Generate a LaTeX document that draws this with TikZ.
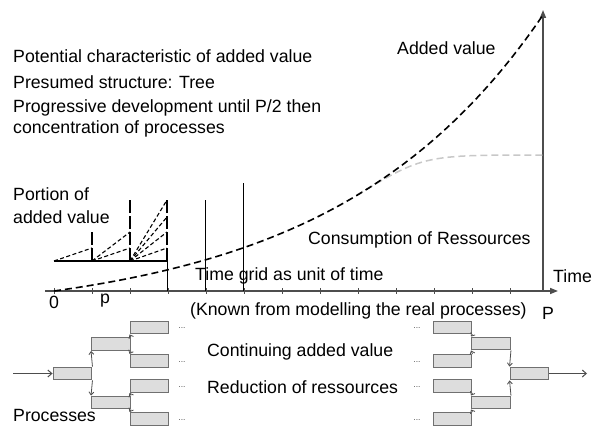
\documentclass[tikz,border=0pt]{standalone}
\usepackage{fontspec}
\setmainfont{Liberation Sans}
\usepackage{tikz}
\usetikzlibrary{arrows.meta}
\definecolor{axisgray}{RGB}{77,77,77}
\definecolor{boxfill}{RGB}{221,221,221}
\definecolor{boxline}{RGB}{112,112,112}
\definecolor{lightcurve}{RGB}{200,200,200}

\begin{document}
\begin{tikzpicture}[x=1pt, y=-1pt,
    lbl/.style={font=\fontsize{17.7}{21}\selectfont, inner sep=0pt, anchor=west, align=left},
    dots/.style={font=\fontsize{8.5}{8.5}\selectfont, inner sep=0pt, anchor=base, text=axisgray},
    axis/.style={axisgray, line width=1.5pt, -{Triangle[length=8pt,width=6pt]}},
    grid/.style={line width=0.7pt},
    fan/.style={line width=1.1pt, dash pattern=on 4pt off 2.5pt},
    vfan/.style={line width=1.1pt, dash pattern=on 13pt off 3pt},
    proc/.style={draw=boxline, fill=boxfill, line width=1.4pt, minimum width=38.5pt, minimum height=12.5pt, inner sep=0pt},
    flow/.style={axisgray, line width=0.8pt, -{Straight Barb[length=3pt,width=5pt]}},
    io/.style={axisgray, line width=1pt, -{Straight Barb[length=4pt,width=7pt]}}]
  \useasboundingbox (0,0) rectangle (596,425);

  % Texts on top
  \node[lbl] (t1) at (13,56) {Potential characteristic of added value};
  \node[lbl] (t2) at (13,82) {Presumed structure: Tree};
  \node[lbl] (t3) at (13,118.5) {Progressive development until P/2 then\\concentration of processes};
  \node[lbl] (added) at (397,48) {Added value};

  % Axes
  \draw[axis] (45,291) -- (558,291);
  \draw[axis] (543,291) -- (543,10);
  \foreach \i in {0,...,12}
    \draw[axisgray, line width=0.8pt] (54+38*\i,288) -- (54+38*\i,294);
  \node[lbl] (time) at (553,276) {Time};
  \node[lbl, anchor=center] (zero) at (54,302) {0};
  \node[lbl, anchor=center] (small p) at (105,301) {p};
  \node[lbl, anchor=center] (big P) at (548,313) {P};
  \node[lbl] (grid) at (195,276) {Time grid as unit of time};
  \node[lbl] (known) at (190,311) {(Known from modelling the real processes)};

  % Grid lines
  \draw[grid] (167,261) -- (167,291);
  \draw[grid] (205,200) -- (205,291);
  \draw[grid] (243,183) -- (243,291);

  % Curves
  \draw[lightcurve, line width=1.5pt, dash pattern=on 7pt off 4pt] (357,195) .. controls (424,155) .. (543,155);
  \draw[line width=1.6pt, dash pattern=on 7pt off 4pt] plot[domain=0:1, samples=60] ({54+489*\x}, {291-29.1*(exp(2.35*\x)-1)});
  \node[lbl] (consume) at (308,240) {Consumption of Ressources};

  % Portion of added value
  \node[lbl] (portion) at (13,205.5) {Portion of\\[2pt]added value};
  \draw[line width=1.5pt] (54,261) -- (167,261);
  \draw[fan] (54,261) -- (92,248);
  \foreach \h in {248,232}
    \draw[fan] (92,261) -- (130,\h);
  \foreach \h in {248,232,217,200}
    \draw[fan] (130,261) -- (167,\h);
  \draw[vfan] (92,261) -- (92,232);
  \draw[vfan] (130,261) -- (130,200);
  \draw[vfan] (167,261) -- (167,200);

  % Process tree, left
  \node[proc] (pA) at (72.5,373.5) {};
  \node[proc] (pB1) at (111,344) {};
  \node[proc] (pB2) at (111,402.5) {};
  \foreach \n/\y in {1/327.5,2/361,3/386,4/419} {
    \node[proc] (pC\n) at (149.5,\y) {};
    \node[dots] (dL\n) at (182,\y+1) {...};
  }
  \coordinate (in) at (13,373.5);
  \draw[io] (in) -- (pA.west);
  \draw[flow] (pA.north east) -- (pB1.south west);
  \draw[flow] (pA.south east) -- (pB2.north west);
  \draw[flow] (pB1.north east) -- (pC1.south west);
  \draw[flow] (pB1.south east) -- (pC2.north west);
  \draw[flow] (pB2.north east) -- (pC3.south west);
  \draw[flow] (pB2.south east) -- (pC4.north west);
  \node[lbl] (procs) at (13,415) {Processes};

  % Process tree, right
  \foreach \n/\y in {1/327.5,2/361,3/386,4/419} {
    \node[proc] (qC\n) at (452.5,\y) {};
    \node[dots] (dR\n) at (417,\y+1) {...};
  }
  \node[proc] (qB1) at (491,343.5) {};
  \node[proc] (qB2) at (491,402.5) {};
  \node[proc] (qA) at (529.5,373.5) {};
  \draw[flow] (qC1.south east) -- (qB1.north west);
  \draw[flow] (qC2.north east) -- (qB1.south west);
  \draw[flow] (qC3.south east) -- (qB2.north west);
  \draw[flow] (qC4.north east) -- (qB2.south west);
  \draw[flow] (qB1.south east) -- (qA.north west);
  \draw[flow] (qB2.north east) -- (qA.south west);
  \coordinate (out) at (587,373.5);
  \draw[io] (qA.east) -- (out);

  % Legend between trees
  \node[lbl] (continuing) at (207,352) {Continuing added value};
  \node[lbl] (reduction) at (207,387) {Reduction of ressources};
\end{tikzpicture}
\end{document}
